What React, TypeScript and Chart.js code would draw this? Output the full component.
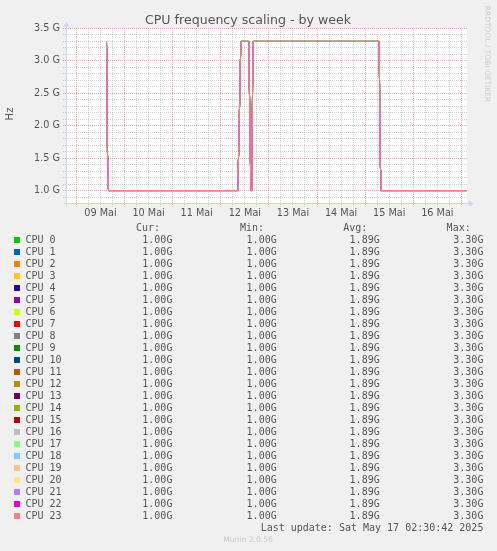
import React, { useEffect, useRef } from "react";
import { Chart, registerables } from "chart.js";

Chart.register(...registerables);

const TITLE = "CPU frequency scaling - by week";
const Y_TITLE = "Hz";
const WATERMARK = "RRDTOOL / TOBI OETIKER";
const FOOTER = "Munin 2.0.56";
const LAST_UPDATE = "Last update: Sat May 17 02:30:42 2025";

const CPU_LABELS = [
  "CPU 0", "CPU 1", "CPU 2", "CPU 3", "CPU 4", "CPU 5", "CPU 6", "CPU 7",
  "CPU 8", "CPU 9", "CPU 10", "CPU 11", "CPU 12", "CPU 13", "CPU 14", "CPU 15",
  "CPU 16", "CPU 17", "CPU 18", "CPU 19", "CPU 20", "CPU 21", "CPU 22", "CPU 23",
];
const CPU_COLORS = [
  "#00CC00", "#0066B3", "#FF8000", "#FFCC00", "#330099", "#990099", "#CCFF00", "#FF0000",
  "#808080", "#008F00", "#00487D", "#B35A00", "#B38F00", "#6B006B", "#8FB300", "#B30000",
  "#BEBEBE", "#80FF80", "#80C9FF", "#FFC080", "#FFE680", "#AA80FF", "#EE00CC", "#FF8080",
];

// hours since 09 Mai 00:00
const SAMPLE_HOURS = [15, 15.5, 16, 80.5, 81, 82, 86, 86.5, 87, 87.5, 88, 151, 151.5, 152, 194.5];
// frequency in GHz
const FREQ_GHZ = [3.3, 1.55, 1.0, 1.0, 1.75, 3.3, 3.3, 2.05, 1.0, 1.0, 3.3, 3.3, 1.5, 1.0, 1.0];

const X_MIN = -5.2;
const X_MAX = 194.8;
const X_GRID_HOURS = [
  0, 6, 12, 18, 24, 30, 36, 42, 48, 54, 60, 66, 72, 78, 84, 90, 96, 102, 108, 114,
  120, 126, 132, 138, 144, 150, 156, 162, 168, 174, 180, 186, 192,
];
const DAY_LABELS = ["09 Mai", "10 Mai", "11 Mai", "12 Mai", "13 Mai", "14 Mai", "15 Mai", "16 Mai"];

const Y_MIN = 0.8;
const Y_MAX = 3.5;
const Y_GRID = [0.9, 1.0, 1.1, 1.2, 1.3, 1.4, 1.5, 1.6, 1.7, 1.8, 1.9, 2.0, 2.1, 2.2, 2.3, 2.4, 2.5, 2.6, 2.7, 2.8, 2.9, 3.0, 3.1, 3.2, 3.3, 3.4, 3.5];
const Y_LABELED = [1.0, 1.5, 2.0, 2.5, 3.0, 3.5];

const STAT_HEADERS = ["Cur:", "Min:", "Avg:", "Max:"];
const CUR = ["1.00G", "1.00G", "1.00G", "1.00G", "1.00G", "1.00G", "1.00G", "1.00G", "1.00G", "1.00G", "1.00G", "1.00G", "1.00G", "1.00G", "1.00G", "1.00G", "1.00G", "1.00G", "1.00G", "1.00G", "1.00G", "1.00G", "1.00G", "1.00G"];
const MIN = ["1.00G", "1.00G", "1.00G", "1.00G", "1.00G", "1.00G", "1.00G", "1.00G", "1.00G", "1.00G", "1.00G", "1.00G", "1.00G", "1.00G", "1.00G", "1.00G", "1.00G", "1.00G", "1.00G", "1.00G", "1.00G", "1.00G", "1.00G", "1.00G"];
const AVG = ["1.89G", "1.89G", "1.89G", "1.89G", "1.89G", "1.89G", "1.89G", "1.89G", "1.89G", "1.89G", "1.89G", "1.89G", "1.89G", "1.89G", "1.89G", "1.89G", "1.89G", "1.89G", "1.89G", "1.89G", "1.89G", "1.89G", "1.89G", "1.89G"];
const MAX = ["3.30G", "3.30G", "3.30G", "3.30G", "3.30G", "3.30G", "3.30G", "3.30G", "3.30G", "3.30G", "3.30G", "3.30G", "3.30G", "3.30G", "3.30G", "3.30G", "3.30G", "3.30G", "3.30G", "3.30G", "3.30G", "3.30G", "3.30G", "3.30G"];

const W = 497;
const H = 551;
const CANVAS_H = 224;
const PLOT_TOP = 28.5;
const PLOT_BOTTOM = 203.5;
const MAJOR_GRID = "rgba(222,80,80,0.5)";
const MINOR_GRID = "rgba(143,143,143,0.42)";
const AXIS_COLOR = "#CFD6F8";
const TEXT = "#555555";
const SANS = "'DejaVu Sans', sans-serif";
const MONO = "'DejaVu Sans Mono', monospace";

const isMajorY = (v: number) => Math.round(v * 10) % 5 === 0;
const isMidnight = (v: number) => Math.round(v) % 24 === 0;

const chromePlugin = {
  id: "rrdChrome",
  beforeDraw(chart: any) {
    const { ctx, chartArea } = chart;
    ctx.save();
    ctx.fillStyle = "#FFFFFF";
    ctx.fillRect(chartArea.left, chartArea.top, chartArea.right - chartArea.left, chartArea.bottom - chartArea.top);
    ctx.restore();
  },
  afterDraw(chart: any) {
    const { ctx, chartArea } = chart;
    const { left, right, top, bottom } = chartArea;
    ctx.save();
    ctx.strokeStyle = AXIS_COLOR;
    ctx.fillStyle = AXIS_COLOR;
    ctx.lineWidth = 1;
    const ax = Math.round(left) + 0.5;
    const ay = Math.floor(bottom) + 0.5;
    ctx.beginPath();
    ctx.moveTo(ax - 3, ay);
    ctx.lineTo(right + 2, ay);
    ctx.moveTo(ax, ay + 3);
    ctx.lineTo(ax, top - 2);
    ctx.stroke();
    ctx.beginPath();
    ctx.moveTo(right + 2, ay - 3);
    ctx.lineTo(right + 7, ay);
    ctx.lineTo(right + 2, ay + 3);
    ctx.closePath();
    ctx.fill();
    ctx.beginPath();
    ctx.moveTo(ax - 3, top - 2);
    ctx.lineTo(ax, top - 7);
    ctx.lineTo(ax + 3, top - 2);
    ctx.closePath();
    ctx.fill();
    ctx.restore();
  },
};

function Txt(props: { x?: number; right?: number; y: number; size: number; font: string; color?: string; children: any; center?: boolean }) {
  const h = 14;
  const style: any = {
    position: "absolute",
    top: props.y - h / 2,
    height: h,
    lineHeight: h + "px",
    fontSize: props.size,
    fontFamily: props.font,
    color: props.color || TEXT,
    whiteSpace: "pre",
  };
  if (props.center) {
    style.left = (props.x as number) - 200;
    style.width = 400;
    style.textAlign = "center";
  } else if (props.right !== undefined) {
    style.right = W - props.right;
    style.textAlign = "right";
  } else {
    style.left = props.x;
  }
  return <div style={style}>{props.children}</div>;
}

export default function App() {
  const ref = useRef<HTMLCanvasElement | null>(null);

  useEffect(() => {
    const canvas = ref.current;
    if (!canvas) return;
    const n = CPU_LABELS.length;
    const datasets = CPU_LABELS.map((label, i) => ({
      label,
      data: SAMPLE_HOURS.map((h, j) => ({ x: h, y: FREQ_GHZ[j] })),
      borderColor: CPU_COLORS[i],
      backgroundColor: CPU_COLORS[i],
      borderWidth: 1,
      pointRadius: 0,
      tension: 0,
      fill: false,
      order: n - 1 - i,
    }));
    const chart = new Chart(canvas, {
      type: "line",
      data: { datasets },
      plugins: [chromePlugin],
      options: {
        animation: false,
        responsive: false,
        devicePixelRatio: 1,
        layout: { padding: { left: 0, right: 30, top: PLOT_TOP, bottom: 0 } },
        plugins: {
          legend: { display: false },
          title: { display: false },
          tooltip: { enabled: false },
        },
        scales: {
          x: {
            type: "linear",
            min: X_MIN,
            max: X_MAX,
            afterBuildTicks: (s: any) => {
              s.ticks = X_GRID_HOURS.map((v) => ({ value: v }));
            },
            afterFit: (s: any) => {
              s.height = CANVAS_H - PLOT_BOTTOM;
            },
            grid: {
              color: (c: any) => (isMidnight(c.tick.value) ? MAJOR_GRID : MINOR_GRID),
              tickColor: (c: any) => (isMidnight(c.tick.value) ? MAJOR_GRID : MINOR_GRID),
              lineWidth: 1,
              tickLength: 3,
              tickBorderDash: [1, 1],
              borderDash: [1, 1],
              borderDashOffset: 0.5,
            },
            border: { display: false, dash: [1, 1], dashOffset: 0.5 },
            ticks: {
              autoSkip: false,
              maxRotation: 0,
              minRotation: 0,
              padding: 1,
              color: TEXT,
              font: { family: SANS, size: 9.7 },
              callback: (v: any) => {
                const h = Math.round(Number(v));
                if (h % 24 === 12) return DAY_LABELS[(h - 12) / 24] || "";
                return "";
              },
            },
          },
          y: {
            type: "linear",
            min: Y_MIN,
            max: Y_MAX,
            afterBuildTicks: (s: any) => {
              s.ticks = Y_GRID.map((v) => ({ value: v }));
            },
            afterFit: (s: any) => {
              s.width = 66;
            },
            grid: {
              color: (c: any) => (isMajorY(c.tick.value) ? MAJOR_GRID : MINOR_GRID),
              tickColor: (c: any) => (isMajorY(c.tick.value) ? MAJOR_GRID : MINOR_GRID),
              lineWidth: 1,
              tickLength: 3,
              tickBorderDash: [1, 1],
              borderDash: [1, 1],
            },
            border: { display: false, dash: [1, 1] },
            ticks: {
              autoSkip: false,
              padding: 3,
              color: TEXT,
              font: { family: SANS, size: 9.7 },
              callback: (v: any) => {
                const val = Number(v);
                const hit = Y_LABELED.find((t) => Math.abs(t - val) < 1e-6);
                return hit !== undefined ? hit.toFixed(1) + " G" : "";
              },
            },
          },
        },
      } as any,
    });
    return () => chart.destroy();
  }, []);

  const rowY = (i: number) => 240 + 12 * i;
  const valueRights = [172.4, 276.7, 379.7, 483.4];
  const headerRights = [160, 264, 367.4, 470.7];
  const cols = [CUR, MIN, AVG, MAX];

  return (
    <div style={{ position: "absolute", left: 0, top: 0, width: W, height: H, background: "#F0F0F0", overflow: "hidden" }}>
      <canvas ref={ref} width={W} height={CANVAS_H} style={{ position: "absolute", left: 0, top: 0, width: W, height: CANVAS_H }} />
      <Txt x={248} y={20} size={12.6} font={SANS} center>{TITLE}</Txt>
      <div
        style={{
          position: "absolute", left: 10 - 20, top: 114 - 7, width: 40, height: 14, lineHeight: "14px",
          textAlign: "center", transform: "rotate(-90deg)", fontFamily: SANS, fontSize: 10, color: TEXT,
        }}
      >
        {Y_TITLE}
      </div>
      <div
        style={{
          position: "absolute", left: 487 - 60, top: 53.5 - 5, width: 120, height: 10, lineHeight: "10px",
          textAlign: "center", transform: "rotate(90deg)", fontFamily: SANS, fontSize: 7.5, color: "#CCCCCC",
        }}
      >
        {WATERMARK}
      </div>
      {STAT_HEADERS.map((h, k) => (
        <Txt key={"h" + k} right={headerRights[k]} y={227.5} size={10} font={MONO}>{h}</Txt>
      ))}
      {CPU_LABELS.map((label, i) => (
        <React.Fragment key={label}>
          <div style={{ position: "absolute", left: 14, top: rowY(i) - 3, width: 6, height: 6, background: CPU_COLORS[i] }} />
          <Txt x={25.5} y={rowY(i)} size={10} font={MONO}>{label}</Txt>
          {cols.map((col, k) => (
            <Txt key={k} right={valueRights[k]} y={rowY(i)} size={10} font={MONO}>{col[i]}</Txt>
          ))}
        </React.Fragment>
      ))}
      <Txt right={483.4} y={527.7} size={10} font={MONO}>{LAST_UPDATE}</Txt>
      <Txt x={248} y={540} size={7.6} font={SANS} color="#C8C8C8" center>{FOOTER}</Txt>
    </div>
  );
}
